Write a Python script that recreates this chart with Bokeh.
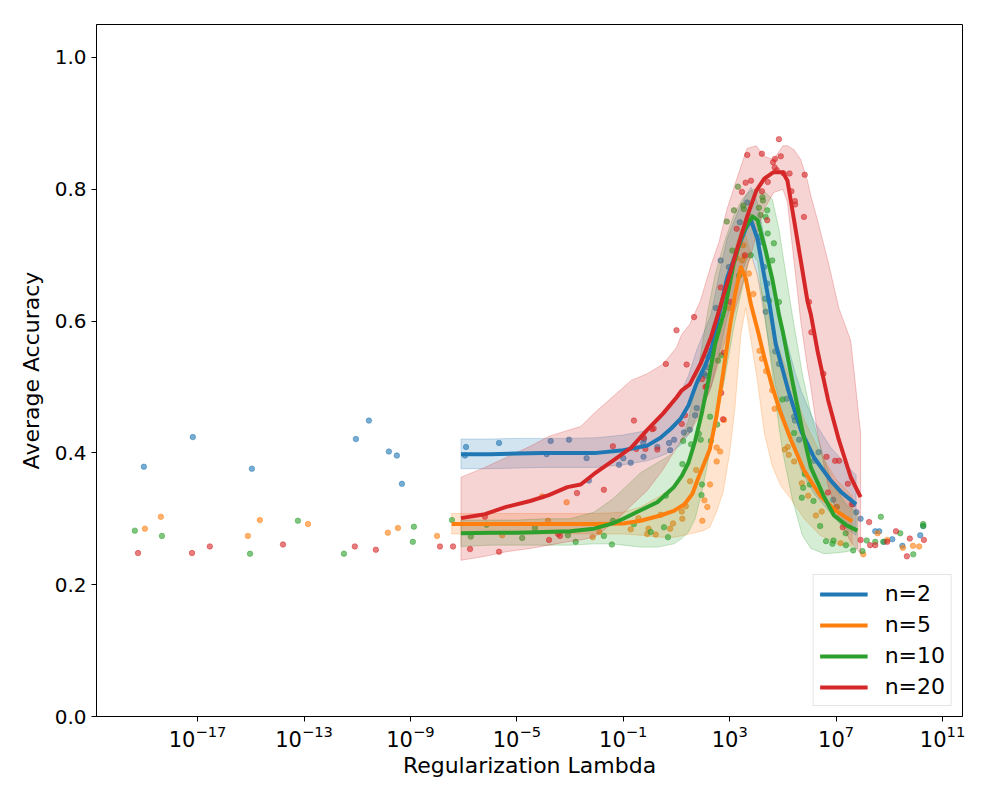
from bokeh.plotting import figure
from bokeh.models import Range1d, FixedTicker, PrintfTickFormatter, Legend, LegendItem, LogTickFormatter
from bokeh.embed import file_html
from bokeh.resources import INLINE

# ---------------- data (x values are log10 of the regularization lambda) ----------------
series_labels = ["n=2", "n=5", "n=10", "n=20"]
series_colors = ["#1f77b4", "#ff7f0e", "#2ca02c", "#d62728"]

# smoothed mean curves and their bands
n2_line_log10_lambda = [-7.1, -6.0, -5.0, -4.0, -3.0, -2.0, -1.0, -0.1, 0.4, 0.8, 1.16, 1.45, 1.75, 2.05, 2.3, 2.6,
                        2.9, 3.3, 3.6, 3.8, 4.04, 4.29, 4.5, 4.73, 5.0, 5.2, 5.45, 5.7, 6.17, 6.8, 7.2, 7.75]
n2_line_mean = [0.398, 0.398, 0.399, 0.400, 0.400, 0.400, 0.404, 0.411, 0.423, 0.437, 0.452, 0.472, 0.505, 0.530,
                0.555, 0.610, 0.665, 0.710, 0.740, 0.753, 0.725, 0.670, 0.625, 0.565, 0.525, 0.495, 0.463, 0.432,
                0.393, 0.358, 0.340, 0.322]
n2_band_low = [0.376, 0.376, 0.377, 0.378, 0.378, 0.378, 0.382, 0.388, 0.395, 0.402, 0.412, 0.427, 0.455, 0.475,
               0.500, 0.550, 0.605, 0.655, 0.690, 0.703, 0.670, 0.610, 0.560, 0.500, 0.460, 0.430, 0.403, 0.372,
               0.338, 0.308, 0.290, 0.275]
n2_band_high = [0.421, 0.421, 0.422, 0.422, 0.422, 0.423, 0.427, 0.434, 0.451, 0.472, 0.492, 0.517, 0.555, 0.585,
                0.610, 0.670, 0.725, 0.765, 0.790, 0.803, 0.780, 0.730, 0.690, 0.630, 0.590, 0.560, 0.523, 0.492,
                0.448, 0.408, 0.390, 0.366]

n5_line_log10_lambda = [-7.45, -6.0, -5.0, -4.0, -3.0, -2.0, -1.0, -0.35, 0.4, 0.9, 1.3, 1.6, 1.8, 2.0, 2.25, 2.5,
                        2.75, 3.0, 3.2, 3.42, 3.6, 3.8, 4.04, 4.3, 4.6, 4.92, 5.3, 5.8, 6.4, 7.0, 7.6]
n5_line_mean = [0.292, 0.292, 0.292, 0.292, 0.292, 0.292, 0.293, 0.297, 0.305, 0.312, 0.322, 0.338, 0.360, 0.380,
                0.405, 0.455, 0.520, 0.590, 0.640, 0.682, 0.665, 0.625, 0.588, 0.545, 0.500, 0.460, 0.420, 0.373,
                0.335, 0.312, 0.296]
n5_band_low = [0.277, 0.277, 0.277, 0.277, 0.277, 0.277, 0.277, 0.275, 0.272, 0.272, 0.275, 0.278, 0.280, 0.282,
               0.287, 0.310, 0.340, 0.400, 0.470, 0.580, 0.620, 0.570, 0.510, 0.430, 0.380, 0.350, 0.330, 0.300,
               0.275, 0.262, 0.258]
n5_band_high = [0.308, 0.308, 0.308, 0.308, 0.308, 0.308, 0.310, 0.318, 0.335, 0.350, 0.370, 0.400, 0.440, 0.480,
                0.520, 0.570, 0.630, 0.680, 0.710, 0.740, 0.730, 0.700, 0.670, 0.630, 0.590, 0.550, 0.510, 0.450,
                0.400, 0.360, 0.335]

n10_line_log10_lambda = [-7.1, -6.0, -5.0, -4.0, -3.0, -2.1, -1.4, -1.0, -0.35, 0.28, 0.9, 1.2, 1.45, 1.7, 1.95, 2.2,
                         2.45, 2.8, 3.15, 3.47, 3.7, 3.88, 4.05, 4.35, 4.6, 4.85, 5.0, 5.35, 5.73, 6.05, 6.55, 6.92,
                         7.4, 7.8]
n10_line_mean = [0.278, 0.279, 0.279, 0.280, 0.281, 0.285, 0.293, 0.300, 0.313, 0.325, 0.348, 0.365, 0.385, 0.418,
                 0.460, 0.510, 0.565, 0.615, 0.687, 0.732, 0.750, 0.758, 0.753, 0.707, 0.664, 0.610, 0.583, 0.510,
                 0.434, 0.378, 0.333, 0.305, 0.290, 0.282]
n10_band_low = [0.258, 0.260, 0.260, 0.260, 0.260, 0.262, 0.262, 0.260, 0.257, 0.257, 0.262, 0.270, 0.280, 0.300,
                0.340, 0.390, 0.440, 0.510, 0.590, 0.650, 0.690, 0.700, 0.690, 0.600, 0.520, 0.440, 0.400, 0.330,
                0.275, 0.255, 0.247, 0.248, 0.250, 0.255]
n10_band_high = [0.298, 0.298, 0.298, 0.300, 0.300, 0.310, 0.330, 0.345, 0.370, 0.385, 0.400, 0.420, 0.450, 0.500,
                 0.560, 0.620, 0.670, 0.720, 0.760, 0.785, 0.795, 0.800, 0.800, 0.795, 0.785, 0.740, 0.700, 0.610,
                 0.520, 0.460, 0.390, 0.350, 0.320, 0.310]

n20_line_log10_lambda = [-7.1, -6.2, -5.4, -4.5, -3.8, -3.1, -2.6, -2.1, -1.4, -0.7, -0.1, 0.5, 1.0, 1.2, 1.5, 1.9,
                         2.3, 2.6, 2.9, 3.3, 3.65, 4.0, 4.3, 4.65, 5.0, 5.17, 5.42, 5.67, 5.92, 6.05, 6.3, 6.7, 7.1,
                         7.55, 7.92]
n20_line_mean = [0.301, 0.307, 0.318, 0.327, 0.336, 0.348, 0.352, 0.368, 0.388, 0.408, 0.435, 0.460, 0.484, 0.495,
                 0.504, 0.535, 0.576, 0.616, 0.657, 0.712, 0.758, 0.798, 0.816, 0.826, 0.826, 0.813, 0.753, 0.692,
                 0.631, 0.610, 0.555, 0.480, 0.420, 0.363, 0.333]
n20_band_low = [0.237, 0.243, 0.250, 0.255, 0.260, 0.265, 0.268, 0.272, 0.293, 0.320, 0.343, 0.375, 0.408, 0.420,
                0.430, 0.460, 0.500, 0.540, 0.580, 0.630, 0.680, 0.730, 0.770, 0.795, 0.800, 0.780, 0.690, 0.600,
                0.530, 0.500, 0.430, 0.350, 0.300, 0.265, 0.247]
n20_band_high = [0.363, 0.378, 0.393, 0.410, 0.425, 0.434, 0.440, 0.460, 0.485, 0.510, 0.520, 0.535, 0.560, 0.580,
                 0.595, 0.631, 0.685, 0.720, 0.770, 0.820, 0.862, 0.866, 0.850, 0.845, 0.866, 0.866, 0.860, 0.845,
                 0.813, 0.790, 0.753, 0.690, 0.620, 0.570, 0.430]

# individual runs (scatter)
n2_points_log10_lambda = [-19.02, -17.18, -14.96, -11.05, -10.56, -9.81, -9.51, -9.32, -6.91, -6.95, -5.67, -3.73,
                          -3.04, -3.88, -2.38, -2.29, -1.0, -1.16, -0.72, -0.25, -0.22, -0.24, 0.28, 0.76, 0.72, 0.91,
                          1.28, 1.5, 1.76, 1.7, 2.04, 2.17, 2.19, 2.48, 2.66, 2.97, 3.38, 3.66, 4.16, 4.1, 4.29, 4.41,
                          4.35, 4.33, 4.71, 4.85, 5.14, 5.42, 5.45, 5.61, 6.34, 6.17, 6.89, 7.02, 7.64, 7.76, 7.92,
                          8.47, 8.62, 8.81, 9.11, 9.49, 10.16, 10.27, 2.22, 2.09]
n2_points_acc = [0.379, 0.424, 0.376, 0.421, 0.449, 0.402, 0.396, 0.353, 0.409, 0.396, 0.415, 0.418, 0.420, 0.398,
                 0.392, 0.358, 0.392, 0.382, 0.385, 0.415, 0.421, 0.394, 0.409, 0.404, 0.415, 0.420, 0.431, 0.435,
                 0.468, 0.457, 0.520, 0.530, 0.546, 0.620, 0.692, 0.682, 0.750, 0.780, 0.720, 0.728, 0.682, 0.657,
                 0.614, 0.634, 0.554, 0.535, 0.482, 0.455, 0.449, 0.420, 0.401, 0.388, 0.329, 0.318, 0.322, 0.310,
                 0.300, 0.281, 0.281, 0.265, 0.269, 0.259, 0.275, 0.289, 0.555, 0.517]

n5_points_log10_lambda = [-18.98, -18.38, -15.11, -14.66, -12.85, -9.85, -9.47, -8.0, -5.55, -4.05, -3.83, -3.13,
                          -2.15, -1.9, -0.72, -0.43, -0.1, -0.05, 0.22, 0.41, 0.76, 0.87, 1.2, 1.22, 1.35, 1.51, 1.74,
                          2.26, 1.97, 2.05, 2.16, 2.51, 2.64, 2.51, 2.79, 2.97, 3.51, 3.56, 3.47, 3.26, 3.72, 3.89,
                          4.12, 4.21, 4.37, 4.6, 4.69, 5.07, 5.18, 5.22, 5.42, 5.71, 5.95, 6.24, 6.46, 7.03, 7.17,
                          8.02, 8.56, 8.92, 9.51, 9.89, 10.12]
n5_points_acc = [0.285, 0.303, 0.274, 0.298, 0.292, 0.279, 0.286, 0.274, 0.275, 0.334, 0.297, 0.325, 0.272, 0.280,
                 0.284, 0.301, 0.277, 0.285, 0.276, 0.306, 0.285, 0.293, 0.311, 0.300, 0.319, 0.357, 0.374, 0.352,
                 0.297, 0.328, 0.318, 0.408, 0.402, 0.387, 0.450, 0.620, 0.715, 0.698, 0.692, 0.696, 0.672, 0.641,
                 0.555, 0.543, 0.524, 0.495, 0.467, 0.405, 0.409, 0.397, 0.387, 0.354, 0.335, 0.305, 0.311, 0.318,
                 0.263, 0.246, 0.278, 0.268, 0.256, 0.259, 0.258]

n10_points_log10_lambda = [-19.36, -18.34, -15.03, -13.23, -11.5, -8.87, -8.91, -7.44, -6.73, -6.14, -4.8, -4.32,
                           -3.08, -2.79, -1.73, -1.43, -1.39, -0.6, 0.03, 0.53, 0.68, 0.6, 1.22, 1.55, 1.25, 1.84,
                           1.91, 1.96, 1.94, 2.29, 2.53, 2.26, 2.56, 2.7, 2.89, 3.31, 3.51, 3.53, 3.16, 4.1, 4.23,
                           4.25, 4.41, 4.16, 4.35, 3.8, 4.43, 4.66, 4.6, 3.79, 3.35, 3.1, 4.48, 4.85, 4.98, 5.42, 5.82,
                           5.76, 6.01, 5.71, 6.15, 6.4, 6.62, 6.86, 6.9, 7.36, 7.37, 7.64, 7.99, 8.15, 8.68, 8.47,
                           8.77, 9.41, 9.9, 10.27, 10.28]
n10_points_acc = [0.282, 0.274, 0.247, 0.297, 0.247, 0.288, 0.265, 0.298, 0.273, 0.291, 0.271, 0.286, 0.275, 0.265,
                  0.274, 0.261, 0.297, 0.292, 0.280, 0.287, 0.272, 0.335, 0.383, 0.413, 0.418, 0.429, 0.420, 0.352,
                  0.336, 0.418, 0.443, 0.455, 0.540, 0.548, 0.751, 0.804, 0.775, 0.770, 0.768, 0.772, 0.788, 0.783,
                  0.768, 0.761, 0.758, 0.758, 0.733, 0.718, 0.692, 0.700, 0.669, 0.707, 0.631, 0.629, 0.481, 0.430,
                  0.368, 0.347, 0.352, 0.332, 0.327, 0.289, 0.266, 0.262, 0.267, 0.278, 0.260, 0.252, 0.251, 0.267,
                  0.303, 0.265, 0.265, 0.278, 0.246, 0.292, 0.289]

n20_points_log10_lambda = [-19.24, -17.21, -16.54, -13.79, -11.09, -10.30, -7.89, -7.40, -6.76, -6.2, -5.67, -3.79,
                           -3.45, -3.38, -2.74, -1.73, -1.39, -0.6, 0.09, 0.14, 0.28, -0.17, -0.51, -0.23, 1.2, 1.32,
                           2.09, 2.13, 1.96, 2.68, 2.75, 2.79, 3.03, 1.38, 0.6, 1.0, 1.66, 2.66, 3.26, 3.57, 3.46, 3.6,
                           3.8, 3.66, 4.21, 4.85, 4.63, 4.7, 4.92, 4.69, 4.77, 5.03, 5.25, 5.82, 4.43, 4.21, 5.32,
                           5.45, 5.46, 5.79, 4.41, 5.98, 6.07, 6.52, 6.64, 6.96, 7.11, 7.44, 6.69, 7.59, 7.25, 7.92,
                           8.24, 8.28, 8.47, 8.92, 9.25, 9.77, 9.66, 10.3]
n20_points_acc = [0.248, 0.248, 0.258, 0.261, 0.258, 0.253, 0.258, 0.258, 0.254, 0.303, 0.250, 0.268, 0.277, 0.274,
                  0.339, 0.344, 0.410, 0.449, 0.436, 0.437, 0.405, 0.406, 0.406, 0.423, 0.444, 0.457, 0.500, 0.501,
                  0.512, 0.491, 0.451, 0.552, 0.629, 0.534, 0.535, 0.586, 0.606, 0.651, 0.740, 0.700, 0.796, 0.810,
                  0.813, 0.852, 0.854, 0.876, 0.841, 0.846, 0.850, 0.833, 0.829, 0.824, 0.824, 0.822, 0.811, 0.797,
                  0.797, 0.782, 0.777, 0.758, 0.753, 0.629, 0.583, 0.520, 0.394, 0.388, 0.388, 0.353, 0.340, 0.322,
                  0.287, 0.268, 0.295, 0.260, 0.260, 0.265, 0.281, 0.270, 0.243, 0.268]

x_tick_exponents = [-17, -13, -9, -5, -1, 3, 7, 11]
y_ticks = [0.0, 0.2, 0.4, 0.6, 0.8, 1.0]

# ---------------- figure ----------------
FONT = "DejaVu Sans"

p = figure(width=992, height=792, x_axis_type="log",
           x_range=Range1d(10 ** -20.8, 10 ** 11.75), y_range=Range1d(0, 1.05),
           output_backend="svg", toolbar_location=None,
           min_border_left=96, min_border_top=24, min_border_right=30, min_border_bottom=76)
p.xgrid.visible = False
p.ygrid.visible = False
p.outline_line_color = "black"
p.outline_line_alpha = 1.0
p.outline_line_width = 1
p.background_fill_color = "white"
p.border_fill_color = "white"

lines_data = [
    (n2_line_log10_lambda, n2_line_mean, n2_band_low, n2_band_high, n2_points_log10_lambda, n2_points_acc),
    (n5_line_log10_lambda, n5_line_mean, n5_band_low, n5_band_high, n5_points_log10_lambda, n5_points_acc),
    (n10_line_log10_lambda, n10_line_mean, n10_band_low, n10_band_high, n10_points_log10_lambda, n10_points_acc),
    (n20_line_log10_lambda, n20_line_mean, n20_band_low, n20_band_high, n20_points_log10_lambda, n20_points_acc),
]

line_renderers = []
for (lx, mean, lo, hi, plx, pacc), color in zip(lines_data, series_colors):
    lam = [10 ** v for v in lx]
    plam = [10 ** v for v in plx]
    p.scatter(plam, pacc, size=5.5, marker="circle", fill_color=color, line_color=color,
              fill_alpha=0.6, line_alpha=0.6, line_width=0.8)
    p.patch(lam + lam[::-1], hi + lo[::-1], fill_color=color, fill_alpha=0.2,
            line_color=color, line_alpha=0.25, line_width=1)

for (lx, mean, lo, hi, plx, pacc), color in zip(lines_data, series_colors):
    lam = [10 ** v for v in lx]
    r = p.line(lam, mean, line_color=color, line_width=4, line_join="round", line_cap="butt")
    line_renderers.append(r)

# axes
p.xaxis.ticker = FixedTicker(ticks=[10.0 ** e for e in x_tick_exponents], minor_ticks=[])
p.xaxis.formatter = LogTickFormatter()
p.yaxis.ticker = FixedTicker(ticks=y_ticks, minor_ticks=[])
p.yaxis.formatter = PrintfTickFormatter(format="%.1f")
p.xaxis.axis_label = "Regularization Lambda"
p.yaxis.axis_label = "Average Accuracy"
for ax in (p.xaxis[0], p.yaxis[0]):
    ax.axis_line_color = "black"
    ax.major_tick_line_color = "black"
    ax.major_tick_out = 5
    ax.major_tick_in = 0
    ax.minor_tick_out = 0
    ax.minor_tick_in = 0
    ax.major_label_text_font = FONT
    ax.major_label_text_font_size = "20px"
    ax.major_label_text_color = "black"
    ax.axis_label_text_font = FONT
    ax.axis_label_text_font_size = "22px"
    ax.axis_label_text_font_style = "normal"
    ax.axis_label_text_color = "black"
    ax.major_label_standoff = 5
    ax.axis_label_standoff = 8
p.xaxis[0].major_label_text_font_size = "21px"
p.xaxis[0].major_label_standoff = 3
p.xaxis[0].axis_label_standoff = 3

legend = Legend(items=[LegendItem(label=lab, renderers=[r]) for lab, r in zip(series_labels, line_renderers)],
                location="bottom_right")
legend.label_text_font = FONT
legend.label_text_font_size = "22px"
legend.label_text_color = "black"
legend.glyph_width = 48
legend.glyph_height = 22
legend.label_height = 22
legend.label_standoff = 17
legend.spacing = 6
legend.padding = 6
legend.margin = 10
legend.border_line_color = "#cccccc"
legend.border_line_width = 1
legend.background_fill_alpha = 0.8
p.add_layout(legend)

open("out.html", "w").write(file_html(p, INLINE))
